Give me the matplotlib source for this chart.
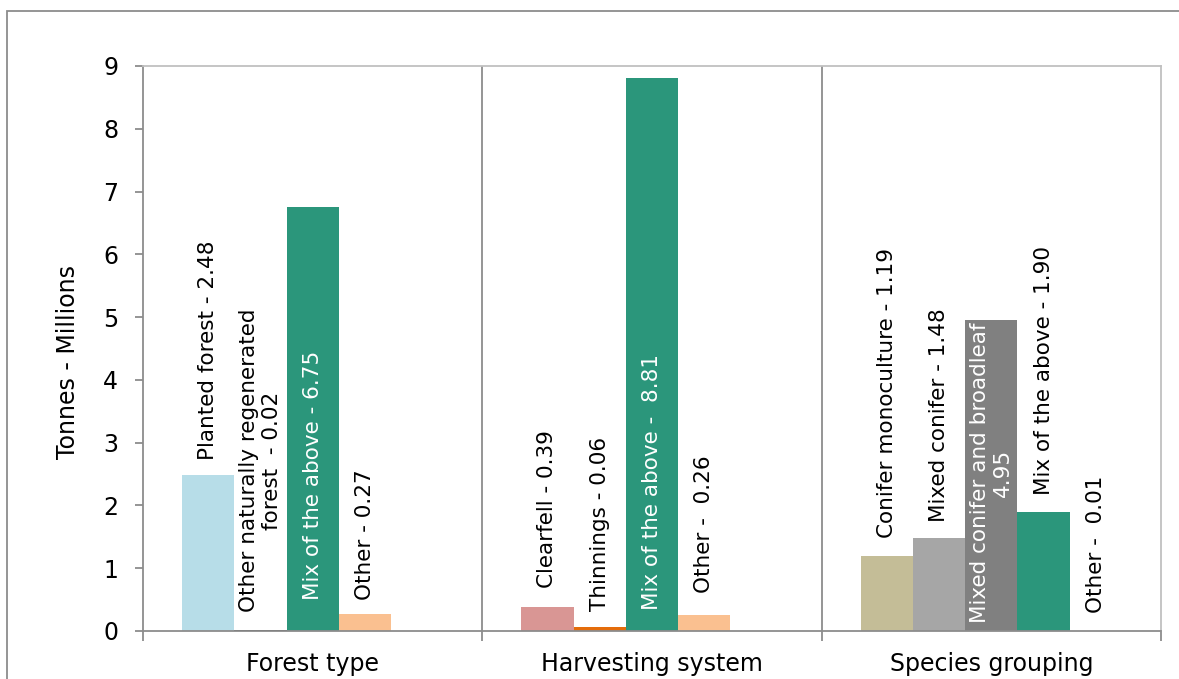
import numpy as np
import matplotlib.pyplot as plt
from matplotlib.patches import Rectangle

# data
groups = ["Forest type", "Harvesting system", "Species grouping"]

forest_vals = [2.48, 0.02, 6.75, 0.27]
forest_labels = ["Planted forest - 2.48",
                 "Other naturally regenerated\nforest  - 0.02",
                 "Mix of the above - 6.75",
                 "Other - 0.27"]
forest_colors = ["#b7dde8", "#262626", "#2b967b", "#fac090"]

harvest_vals = [0.39, 0.06, 8.81, 0.26]
harvest_labels = ["Clearfell - 0.39", "Thinnings - 0.06",
                  "Mix of the above -  8.81", "Other -  0.26"]
harvest_colors = ["#d99694", "#e46c0a", "#2b967b", "#fac090"]

species_vals = [1.19, 1.48, 4.95, 1.90, 0.01]
species_labels = ["Conifer monoculture - 1.19", "Mixed conifer - 1.48",
                  "Mixed conifer and broadleaf\n4.95",
                  "Mix of the above - 1.90", "Other -  0.01"]
species_colors = ["#c4bd97", "#a6a6a6", "#808080", "#2b967b", "#ffffff"]

# where each label starts (bottom of rotated text), in axis units
forest_label_y = [2.72, 0.30, 0.49, 0.49]
harvest_label_y = [0.68, 0.32, 0.33, 0.60]
species_label_y = [1.48, 1.74, 0.13, 2.17, 0.29]
white_text = {(0, 2), (1, 2), (2, 2)}

all_vals = [forest_vals, harvest_vals, species_vals]
all_labels = [forest_labels, harvest_labels, species_labels]
all_colors = [forest_colors, harvest_colors, species_colors]
all_label_y = [forest_label_y, harvest_label_y, species_label_y]

fig = plt.figure(figsize=(11.79, 6.79), dpi=100)
ax = fig.add_axes([0.1213, 0.0707, 0.8634, 0.8321])

w = 0.154
for g, (vals, labs, cols, ly) in enumerate(zip(all_vals, all_labels, all_colors, all_label_y)):
    for i, (v, lab, c, y) in enumerate(zip(vals, labs, cols, ly)):
        x = g + (i - 2) * w
        ax.bar(x, v, width=w, color=c, edgecolor="none")
        tc = "white" if (g, i) in white_text else "black"
        ax.text(x, y, lab, rotation=90, ha="center", va="bottom",
                multialignment="center", fontsize=15.5, color=tc,
                linespacing=1.15)

# group separators
for s in [0.5, 1.5]:
    ax.plot([s, s], [0, 9], color="#8c8c8c", lw=1.3)

ax.set_xlim(-0.5, 2.5)
ax.set_ylim(0, 9)
ax.set_yticks(range(10))
ax.set_xticks(range(3))
ax.set_xticklabels(groups, fontsize=17)
ax.set_xticks([-0.5, 0.5, 1.5, 2.5], minor=True)
ax.tick_params(axis="x", which="major", length=0, pad=15)
ax.tick_params(axis="x", which="minor", length=7, color="#8c8c8c", width=1.3)
ax.tick_params(axis="y", length=6, color="#8c8c8c", width=1.3, labelsize=17, pad=12)

for side in ["left", "bottom"]:
    ax.spines[side].set_color("#8c8c8c")
    ax.spines[side].set_linewidth(1.3)
for side in ["top", "right"]:
    ax.spines[side].set_color("#c0c0c0")
    ax.spines[side].set_linewidth(1.3)

ax.set_ylabel("Tonnes - Millions", fontsize=17)
ax.yaxis.set_label_coords(-0.062, 0.476)

# outer chart border
fig.patches.append(Rectangle((0.006, -0.1), 1.2, 1.0838, transform=fig.transFigure,
                             fill=False, edgecolor="#8c8c8c", lw=1.3))

fig.savefig("out.png", dpi=100)
